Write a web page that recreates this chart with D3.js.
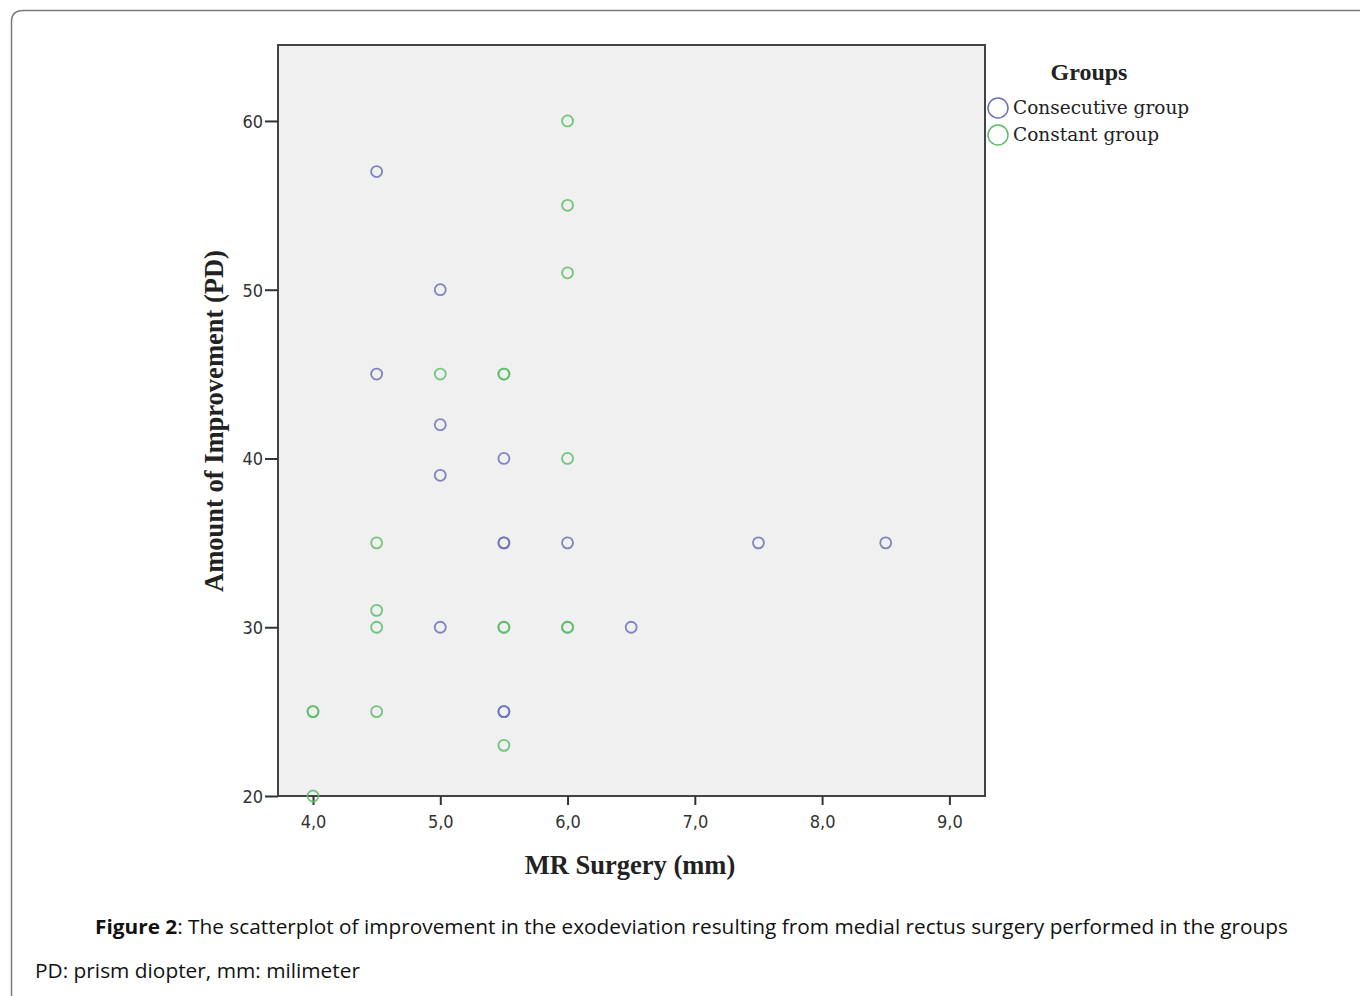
<!DOCTYPE html>
<html>
<head>
<meta charset="utf-8">
<script src="https://cdn.jsdelivr.net/npm/d3@7"></script>
<style>
  body { margin: 0; background: #fff; }
  svg { display: block; }
</style>
</head>
<body>
<svg id="chart" width="1360" height="996"></svg>
<script>
// Data (duplicates are drawn twice, as in the original)
var consecutiveX = [4.5, 5.0, 4.5, 5.0, 5.0, 5.5, 5.5, 5.5, 6.0, 7.5, 8.5, 5.0, 6.5, 5.5, 5.5],
  consecutiveY = [57, 50, 45, 42, 39, 40, 35, 35, 35, 35, 35, 30, 30, 25, 25],
  constantX = [6.0, 6.0, 6.0, 5.0, 5.5, 5.5, 6.0, 4.5, 4.5, 4.5, 5.5, 5.5, 6.0, 6.0, 4.0, 4.0, 4.5, 5.5, 4.0],
  constantY = [60, 55, 51, 45, 45, 45, 40, 35, 31, 30, 30, 30, 30, 30, 25, 25, 25, 23, 20],
  xTicks = [4, 5, 6, 7, 8, 9],
  yTicks = [20, 30, 40, 50, 60],
  groupNames = ["Consecutive group", "Constant group"];

var svg = d3.select("#chart"),
  plot = { left: 278, top: 45, right: 985, bottom: 796 },
  colors = ["#6a71b6", "#5cbd69"];

// Page frame with rounded corner (runs off the right and bottom)
svg.append("path")
  .attr("d", "M11.5,1000 L11.5,22 Q11.5,10.5 23,10.5 L1370,10.5")
  .attr("fill", "none")
  .attr("stroke", "#7a7a7a")
  .attr("stroke-width", 1.5);

var x = d3.scaleLinear().domain([3.725, 9.28]).range([plot.left, plot.right]),
  y = d3.scaleLinear().domain([20, 64.5]).range([plot.bottom, plot.top]);

// Plot background
svg.append("rect")
  .attr("x", plot.left)
  .attr("y", plot.top)
  .attr("width", plot.right - plot.left)
  .attr("height", plot.bottom - plot.top)
  .attr("fill", "#f0f0f0")
  .attr("stroke", "#444")
  .attr("stroke-width", 2);

// Axes
var xAxis = svg.append("g")
  .attr("transform", "translate(0," + plot.bottom + ")")
  .call(d3.axisBottom(x).tickValues(xTicks).tickSize(9).tickPadding(10)
    .tickFormat(function (d) { return d3.format(".1f")(d).replace(".", ","); }));

var yAxis = svg.append("g")
  .attr("transform", "translate(" + plot.left + ",0)")
  .call(d3.axisLeft(y).tickValues(yTicks).tickSize(13).tickPadding(2));

[xAxis, yAxis].forEach(function (a) {
  a.select(".domain").remove();
  a.selectAll("line").attr("stroke", "#333").attr("stroke-width", 2);
  a.selectAll("text")
    .attr("fill", "#333")
    .style("font-family", "'DejaVu Sans Condensed', 'DejaVu Sans', sans-serif")
    .style("font-size", "18px");
});
yAxis.selectAll("text").attr("dy", "0.35em");

// Points
function drawSeries(xs, ys, color) {
  svg.append("g")
    .selectAll("circle")
    .data(xs.map(function (d, i) { return [d, ys[i]]; }))
    .enter()
    .append("circle")
    .attr("cx", function (d) { return x(d[0]); })
    .attr("cy", function (d) { return y(d[1]); })
    .attr("r", 5.5)
    .attr("fill", "none")
    .attr("stroke", color)
    .attr("stroke-width", 1.8)
    .attr("stroke-opacity", 0.85);
}
drawSeries(consecutiveX, consecutiveY, colors[0]);
drawSeries(constantX, constantY, colors[1]);

// Axis titles
svg.append("text")
  .attr("x", 630)
  .attr("y", 874)
  .attr("text-anchor", "middle")
  .style("font-family", "'Liberation Serif', 'Times New Roman', serif")
  .style("font-weight", "bold")
  .style("font-size", "26.5px")
  .attr("fill", "#222")
  .text("MR Surgery (mm)");

svg.append("text")
  .attr("transform", "translate(223,421) rotate(-90)")
  .attr("text-anchor", "middle")
  .style("font-family", "'Liberation Serif', 'Times New Roman', serif")
  .style("font-weight", "bold")
  .style("font-size", "26.5px")
  .attr("fill", "#222")
  .text("Amount of Improvement (PD)");

// Legend
svg.append("text")
  .attr("x", 1089)
  .attr("y", 80)
  .attr("text-anchor", "middle")
  .style("font-family", "'Liberation Serif', 'Times New Roman', serif")
  .style("font-weight", "bold")
  .style("font-size", "24px")
  .attr("fill", "#222")
  .text("Groups");

var legend = svg.append("g").selectAll("g")
  .data(groupNames)
  .enter()
  .append("g")
  .attr("transform", function (d, i) { return "translate(998," + (108 + i * 27) + ")"; });

legend.append("circle")
  .attr("r", 10)
  .attr("fill", "none")
  .attr("stroke", function (d, i) { return colors[i]; })
  .attr("stroke-width", 1.5);

legend.append("text")
  .attr("x", 15)
  .attr("dy", "0.35em")
  .style("font-family", "'DejaVu Serif', 'Liberation Serif', serif")
  .style("font-size", "18.5px")
  .attr("fill", "#222")
  .text(function (d) { return d; });

// Caption
var caption = svg.append("text")
  .attr("x", 95)
  .attr("y", 934)
  .attr("textLength", 1193)
  .attr("lengthAdjust", "spacingAndGlyphs")
  .style("font-family", "'Open Sans', 'Noto Sans', sans-serif")
  .style("font-size", "19.5px")
  .attr("fill", "#111");
caption.append("tspan").style("font-weight", "bold").text("Figure 2");
caption.append("tspan").text(": The scatterplot of improvement in the exodeviation resulting from medial rectus surgery performed in the groups");

svg.append("text")
  .attr("x", 35)
  .attr("y", 978)
  .attr("textLength", 325)
  .attr("lengthAdjust", "spacingAndGlyphs")
  .style("font-family", "'Open Sans', 'Noto Sans', sans-serif")
  .style("font-size", "19.5px")
  .attr("fill", "#111")
  .text("PD: prism diopter, mm: milimeter");
</script>
</body>
</html>
